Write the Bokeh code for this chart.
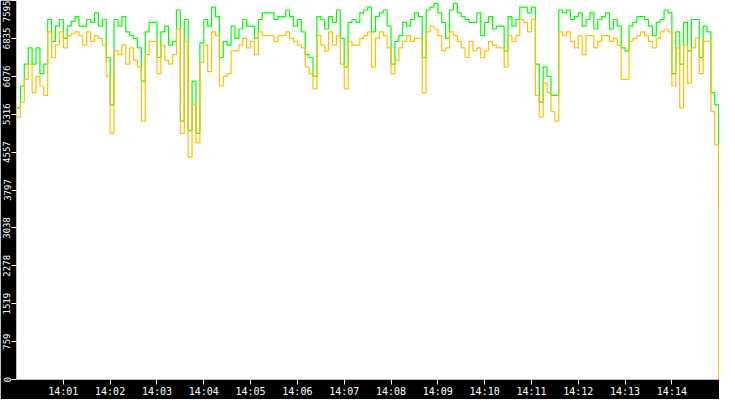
import pandas as pd
from bokeh.plotting import figure
from bokeh.models import Range1d, FixedTicker, DatetimeTickFormatter
from bokeh.embed import file_html
from bokeh.resources import INLINE

# ---- data (sampled every 5 s from 14:00:00 to 14:15:00) ----
start_time = "2024-01-01 14:00:00"
sample_seconds = 5

green_max = [
    5445, 5882, 6320, 6644, 6320, 6644, 6130, 6320, 7214, 6777,
    7081, 7214, 6834, 7081, 7176, 7271, 7081, 7081, 7214, 7157,
    7348, 7081, 7214, 6453, 5502, 7214, 7081, 7271, 6967, 6891,
    6834, 6644, 5978, 6967, 7157, 7157, 6453, 6967, 7081, 6701,
    6777, 7405, 5178, 7214, 4988, 5978, 4931, 6739, 7214, 7081,
    7462, 7271, 6453, 6777, 6701, 7081, 6834, 7024, 7214, 7081,
    7081, 6834, 7214, 7348, 7348, 7348, 7214, 7271, 7271, 7405,
    7271, 7081, 7214, 6967, 6510, 6453, 6073, 7271, 7214, 7024,
    7271, 7157, 7405, 6834, 6263, 7157, 7214, 7157, 7348, 7405,
    7462, 6967, 7271, 7348, 7405, 7081, 6320, 6777, 6891, 7157,
    7081, 7214, 7348, 7271, 6453, 7405, 7462, 7538, 7348, 7157,
    6834, 7405, 7538, 7348, 7271, 7214, 7157, 7157, 7348, 6891,
    7157, 7271, 7024, 7081, 7081, 6586, 7271, 7081, 7214, 7462,
    7462, 7348, 7462, 6320, 5559, 6263, 6073, 5692, 5692, 7405,
    7348, 7405, 7214, 7271, 7348, 7081, 7214, 7348, 7024, 7214,
    7271, 7348, 7024, 7214, 7081, 6644, 6586, 7081, 7157, 7271,
    7271, 7214, 7081, 6891, 7157, 7214, 7405, 7348, 6130, 6967,
    6320, 7157, 6586, 7214, 7214, 6453, 7081, 6967, 5749, 5502,
    3542,
]

orange_avg = [
    5255, 5559, 6016, 6320, 5749, 6073, 5882, 5692, 6967, 6453,
    6701, 6967, 6644, 6891, 6929, 6967, 6891, 6701, 6967, 6777,
    6891, 6834, 6701, 6073, 4931, 6586, 6510, 6701, 6320, 6644,
    6396, 6263, 5178, 6510, 6777, 6777, 6130, 6701, 6396, 6320,
    6510, 7024, 4931, 6777, 4455, 5502, 4741, 6358, 6701, 6168,
    6967, 6891, 5882, 6073, 6130, 6586, 6586, 6701, 6834, 6644,
    6777, 6510, 6967, 6891, 6891, 6891, 6777, 6891, 6891, 6967,
    6834, 6777, 6701, 6644, 6263, 6130, 5825, 6891, 6701, 6586,
    6967, 6701, 6891, 6320, 5825, 6777, 6701, 6701, 6834, 6891,
    6967, 6263, 6834, 6967, 6891, 6644, 6130, 6396, 6644, 6777,
    6891, 6777, 6834, 6834, 5749, 6967, 7081, 7024, 6891, 6586,
    6644, 6967, 6891, 6777, 6644, 6453, 6777, 6586, 6644, 6453,
    6586, 6777, 6701, 6644, 6644, 6263, 6891, 6777, 6891, 7214,
    7157, 6967, 7214, 5692, 5255, 5939, 5749, 5369, 5178, 6967,
    6891, 6967, 6777, 6644, 6891, 6510, 6891, 6891, 6644, 6777,
    6891, 6891, 6777, 6834, 6701, 6016, 6016, 6777, 6834, 6891,
    6967, 6891, 6777, 6644, 6834, 6967, 7024, 6967, 5882, 6644,
    5445, 6701, 5939, 6644, 6834, 6130, 6777, 6777, 5369, 4703,
    0,
]

y_ticks = [0, 759.5, 1519, 2278.5, 3038, 3797.5, 4557, 5316.5, 6076, 6835.5, 7595]
y_tick_labels = ["0", "759", "1519", "2278", "3038", "3797", "4557", "5316", "6076", "6835", "7595"]
x_tick_labels = ["14:01", "14:02", "14:03", "14:04", "14:05", "14:06", "14:07",
                 "14:08", "14:09", "14:10", "14:11", "14:12", "14:13", "14:14"]

# ---- build ----
times = pd.date_range(start=start_time, periods=len(green_max), freq=f"{sample_seconds}s")
t0 = pd.Timestamp(start_time)
t_end = times[-1] + pd.Timedelta(seconds=1)

def ms(ts):
    return ts.value / 1e6

x_ticks = [ms(pd.Timestamp("2024-01-01 " + lab)) for lab in x_tick_labels]

p = figure(width=719, height=399, x_axis_type="datetime",
           output_backend="svg", toolbar_location=None,
           x_range=Range1d(t0, t_end), y_range=Range1d(0, 7595),
           min_border_left=0, min_border_right=0, min_border_top=0, min_border_bottom=0)

p.background_fill_color = "white"
p.border_fill_color = "black"
p.outline_line_color = None
p.xgrid.visible = False
p.ygrid.visible = False

p.step(times, green_max, mode="after", line_color="#00FF00", line_width=1.2)
p.step(times, orange_avg, mode="after", line_color="#FFC000", line_width=1.2)

for ax in (p.xaxis[0], p.yaxis[0]):
    ax.axis_line_color = None
    ax.major_tick_line_color = "white"
    ax.minor_tick_line_color = None
    ax.major_tick_in = 0
    ax.major_tick_out = 5
    ax.major_label_text_color = "white"
    ax.major_label_text_font = "DejaVu Sans Mono"
    ax.major_label_text_font_size = "9px"
    ax.major_label_standoff = 1

p.xaxis[0].major_label_text_font_size = "10px"
p.xaxis[0].ticker = FixedTicker(ticks=x_ticks)
p.xaxis[0].formatter = DatetimeTickFormatter(seconds="%H:%M", minsec="%H:%M", minutes="%H:%M",
                                             hourmin="%H:%M", hours="%H:%M")

p.yaxis[0].ticker = FixedTicker(ticks=y_ticks)
p.yaxis[0].major_label_overrides = {t: lab for t, lab in zip(y_ticks, y_tick_labels)}
p.yaxis[0].major_label_orientation = "vertical"

open("out.html", "w").write(file_html(p, INLINE))
